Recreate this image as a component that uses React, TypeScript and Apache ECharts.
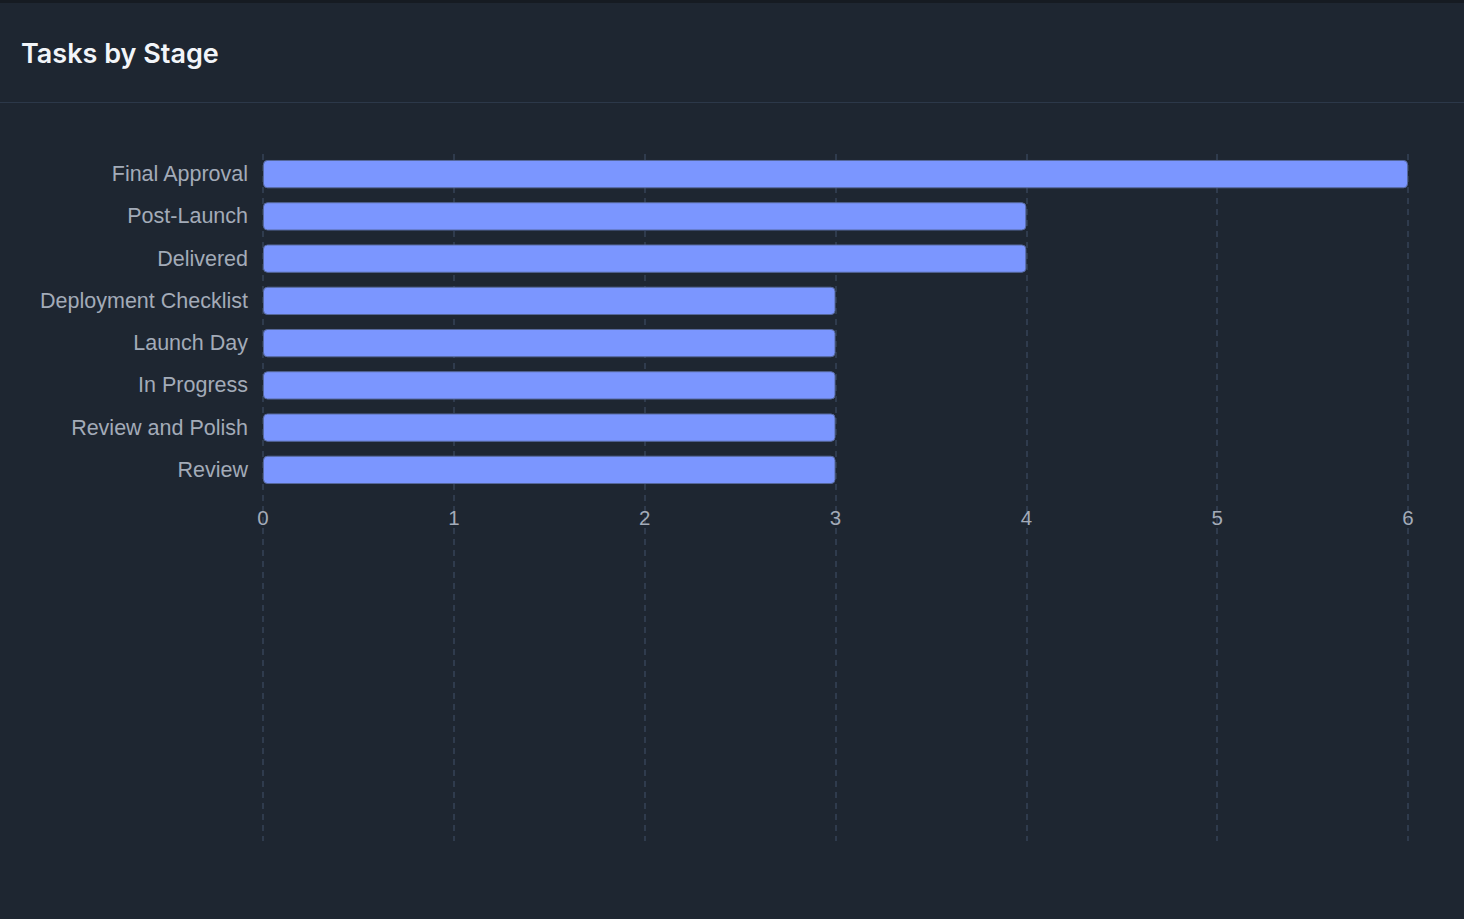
import React, { useEffect, useRef } from "react";
import * as echarts from "echarts";

const categories = [
  "Final Approval",
  "Post-Launch",
  "Delivered",
  "Deployment Checklist",
  "Launch Day",
  "In Progress",
  "Review and Polish",
  "Review",
];
const taskCounts = [6, 4, 4, 3, 3, 3, 3, 3];
const xMin = 0;
const xMax = 6;
const xInterval = 1;

export default function App() {
  const ref = useRef<HTMLDivElement>(null);

  useEffect(() => {
    document.body.style.margin = "0";
    document.body.style.background = "#1e2631";
    if (!ref.current) return;
    const chart = echarts.init(ref.current, undefined, { renderer: "svg" });
    const labelColor = "#a3abb8";
    const font = "Liberation Sans";
    chart.setOption({
      animation: false,
      backgroundColor: "#1e2631",
      title: {
        text: "Tasks by Stage",
        left: 16,
        top: 35,
        textStyle: {
          color: "#f2f5f9",
          fontSize: 27,
          fontWeight: 600,
          fontFamily: "Inter",
        },
      },
      graphic: [
        {
          type: "rect",
          shape: { x: 0, y: 0, width: 1464, height: 3 },
          style: { fill: "#161b22" },
          silent: true,
        },
        {
          type: "rect",
          shape: { x: 0, y: 102, width: 1464, height: 1 },
          style: { fill: "#2c3849" },
          silent: true,
        },
      ],
      grid: [
        { left: 263, right: 56, top: 153, height: 338 },
        { left: 263, right: 56, top: 154, height: 687 },
      ],
      xAxis: [
        {
          type: "value",
          gridIndex: 0,
          min: xMin,
          max: xMax,
          interval: xInterval,
          axisLine: { show: false },
          axisTick: { show: false },
          splitLine: { show: false },
          axisLabel: {
            color: labelColor,
            fontSize: 20.5,
            fontFamily: font,
            margin: 16,
          },
        },
        {
          type: "value",
          gridIndex: 1,
          min: xMin,
          max: xMax,
          interval: xInterval,
          axisLine: { show: false },
          axisTick: { show: false },
          axisLabel: { show: false },
          splitLine: {
            show: true,
            lineStyle: { color: "#364357", width: 1.5, type: [6, 5] },
          },
        },
      ],
      yAxis: [
        {
          type: "category",
          gridIndex: 0,
          data: categories,
          inverse: true,
          axisLine: { show: false },
          axisTick: { show: false },
          splitLine: { show: false },
          axisLabel: {
            color: labelColor,
            fontSize: 21.5,
            fontFamily: font,
            margin: 15,
          },
        },
        {
          type: "value",
          gridIndex: 1,
          show: false,
          min: 0,
          max: 1,
          splitLine: { show: false },
        },
      ],
      series: [
        {
          type: "bar",
          xAxisIndex: 0,
          yAxisIndex: 0,
          data: taskCounts,
          barCategoryGap: "33%",
          itemStyle: {
            color: "#7b96ff",
            borderColor: "#56689c",
            borderWidth: 1,
            borderRadius: 4,
          },
        },
      ],
    });
    return () => chart.dispose();
  }, []);

  return (
    <div
      ref={ref}
      style={{ position: "fixed", left: 0, top: 0, width: 1464, height: 919 }}
    />
  );
}
